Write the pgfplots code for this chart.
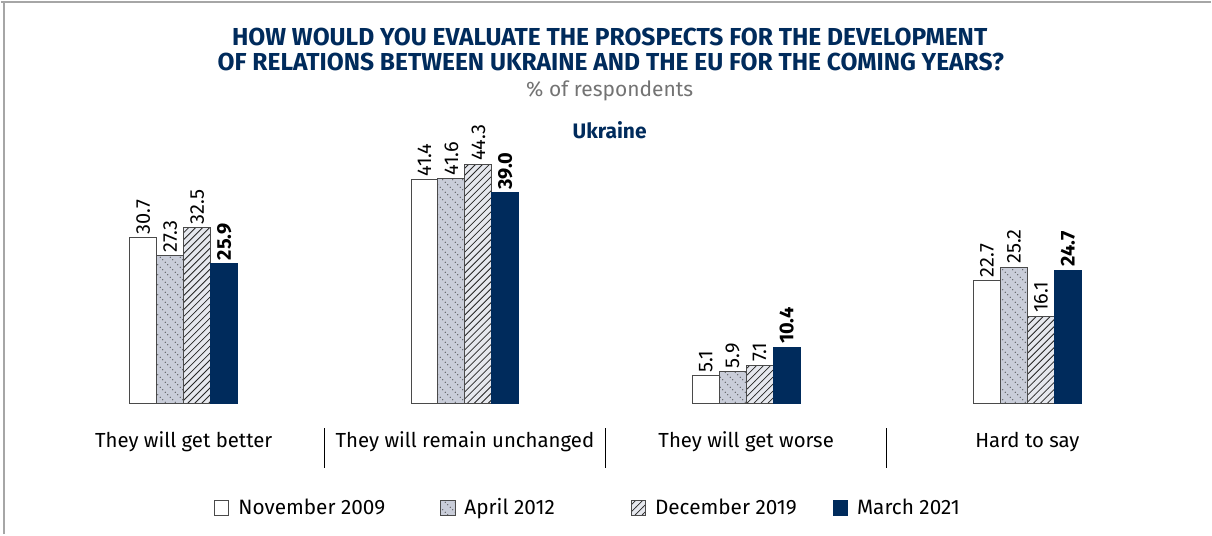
\documentclass[border=0pt]{standalone}
\usepackage{fontspec}
\setmainfont{Fira Sans}
\usepackage{pgfplots}
\pgfplotsset{compat=1.18}
\usetikzlibrary{patterns}
\definecolor{navy}{HTML}{002B5C}
\definecolor{aprfill}{HTML}{C9CDD9}
\definecolor{decfill}{HTML}{E6E8EE}
\definecolor{edge}{HTML}{4A4A4A}

% dotted diagonal lines for April 2012
\pgfdeclarepatternformonly{dotdiag}{\pgfqpoint{0pt}{0pt}}{\pgfqpoint{5pt}{5pt}}{\pgfqpoint{5pt}{5pt}}{%
  \pgfpathcircle{\pgfqpoint{0.625pt}{4.375pt}}{0.3pt}
  \pgfpathcircle{\pgfqpoint{1.875pt}{3.125pt}}{0.3pt}
  \pgfpathcircle{\pgfqpoint{3.125pt}{1.875pt}}{0.3pt}
  \pgfpathcircle{\pgfqpoint{4.375pt}{0.625pt}}{0.3pt}
  \pgfusepath{fill}}
% plain hatching for December 2019
\pgfdeclarepatternformonly{hatch}{\pgfqpoint{-0.5pt}{-0.5pt}}{\pgfqpoint{4pt}{4pt}}{\pgfqpoint{3.5pt}{3.5pt}}{%
  \pgfsetlinewidth{0.4pt}
  \pgfpathmoveto{\pgfqpoint{0pt}{0pt}}
  \pgfpathlineto{\pgfqpoint{3.6pt}{3.6pt}}
  \pgfusepath{stroke}}

\begin{document}
\begin{tikzpicture}
\begin{axis}[
    scale only axis, width=606pt, height=267.5pt,
    xmin=-0.6497, xmax=3.653, ymin=-24.2, ymax=74.7,
    enlargelimits=false, clip=false,
    axis lines=none,
    axis background/.style={fill=white},
    ybar=0pt, bar width=13.5pt,
    nodes near coords,
    nodes near coords style={rotate=90, anchor=west, inner sep=1.5pt, font=\fontsize{10}{12}\selectfont,
        /pgf/number format/fixed, /pgf/number format/fixed zerofill,
        /pgf/number format/precision=1, /pgf/number format/assume math mode=true},
    legend columns=4,
    legend style={draw=none, fill=none, at={(rel axis cs:0.1708,0.0486)}, anchor=west,
        font=\fontsize{10.4}{12}\selectfont,
        /tikz/every even column/.append style={column sep=0pt}},
    legend image code/.code={\draw[#1] (0pt,-3.6pt) rectangle (7.2pt,3.6pt);},
]
\addplot[draw=edge, line width=0.5pt, fill=white] coordinates {(0,30.7) (1,41.4) (2,5.1) (3,22.7)};
\addplot[draw=edge, line width=0.5pt, fill=aprfill, postaction={pattern=dotdiag, pattern color=black!70}]
    coordinates {(0,27.3) (1,41.6) (2,5.9) (3,25.2)};
\addplot[draw=edge, line width=0.5pt, fill=decfill, postaction={pattern=hatch, pattern color=black!85}]
    coordinates {(0,32.5) (1,44.3) (2,7.1) (3,16.1)};
\addplot[draw=navy, line width=0.5pt, fill=navy, every node near coord/.append style={font=\fontsize{10}{12}\selectfont\bfseries}]
    coordinates {(0,25.9) (1,39.0) (2,10.4) (3,24.7)};
\legend{\hspace*{2.5pt}November 2009\hspace*{25.5pt},
        \hspace*{2.5pt}April 2012\hspace*{36pt},
        \hspace*{2.5pt}December 2019\hspace*{16pt},
        \hspace*{2.5pt}March 2021}

% frame lines
\draw[gray!70, line width=1pt] (rel axis cs:0,0.9963) -- (rel axis cs:1,0.9963);
\draw[gray!70, line width=1pt] (rel axis cs:0.0025,0) -- (rel axis cs:0.0025,0.9963);

% titles
\node[text=navy, font=\fontsize{12.3}{14}\selectfont\bfseries] at (rel axis cs:0.503,0.9309) {HOW WOULD YOU EVALUATE THE PROSPECTS FOR THE DEVELOPMENT};
\node[text=navy, font=\fontsize{12.3}{14}\selectfont\bfseries] at (rel axis cs:0.504,0.8842) {OF RELATIONS BETWEEN UKRAINE AND THE EU FOR THE COMING YEARS?};
\node[text=black!55, font=\fontsize{10.5}{12}\selectfont] at (rel axis cs:0.503,0.8299) {\% of respondents};
\node[text=navy, font=\fontsize{10.5}{12}\selectfont\bfseries] at (rel axis cs:0.503,0.757) {Ukraine};

% category labels
\node[font=\fontsize{10.2}{12}\selectfont] at (axis cs:0,-7.1) {They will get better};
\node[font=\fontsize{10.2}{12}\selectfont] at (axis cs:1,-7.1) {They will remain unchanged};
\node[font=\fontsize{10.2}{12}\selectfont] at (axis cs:2,-7.1) {They will get worse};
\node[font=\fontsize{10.2}{12}\selectfont] at (axis cs:3,-7.1) {Hard to say};
% separators
\draw[black, line width=0.6pt] (axis cs:0.5,-4.6) -- (axis cs:0.5,-12.0);
\draw[black, line width=0.6pt] (axis cs:1.5,-4.6) -- (axis cs:1.5,-12.0);
\draw[black, line width=0.6pt] (axis cs:2.5,-4.6) -- (axis cs:2.5,-12.0);
\end{axis}
\end{tikzpicture}
\end{document}
